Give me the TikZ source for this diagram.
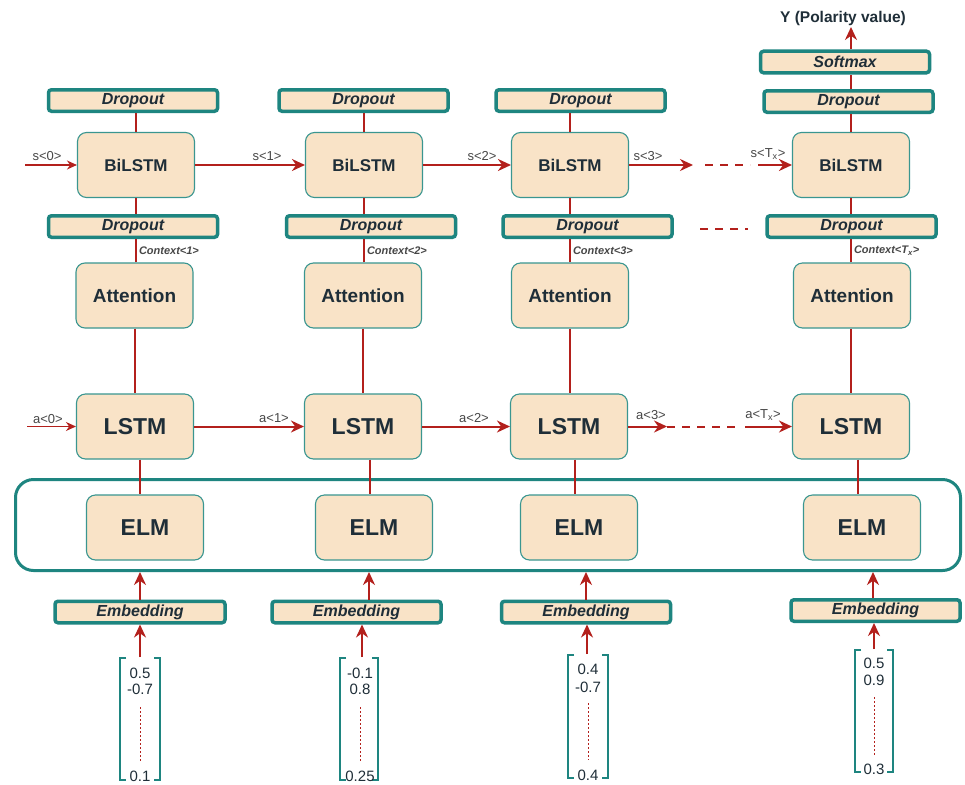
\documentclass[tikz,border=0pt]{standalone}
\usepackage{fontspec}
\setmainfont{Liberation Sans}
\usetikzlibrary{arrows.meta}
\definecolor{boxfill}{HTML}{F9E3C7}
\definecolor{teal1}{HTML}{1E8580}
\definecolor{tealthin}{HTML}{3A9690}
\definecolor{redline}{HTML}{B3201C}
\definecolor{txt}{HTML}{1F2E38}
\definecolor{lbl}{HTML}{474747}
\begin{document}
\begin{tikzpicture}[x=1pt,y=-1pt,
 cell/.style={draw=tealthin, line width=1.1pt, fill=boxfill, rounded corners=9pt, minimum width=117pt, minimum height=65pt, inner sep=0pt, text=txt, font=\bfseries\fontsize{17}{17}\selectfont},
 big/.style={cell, font=\bfseries\fontsize{23}{23}\selectfont},
 att/.style={cell, font=\bfseries\fontsize{19}{19}\selectfont},
 band/.style={draw=teal1, line width=3.5pt, fill=boxfill, rounded corners=3pt, minimum width=169pt, minimum height=21.5pt, inner sep=0pt, text=txt, font=\bfseries\itshape\fontsize{16}{16}\selectfont},
 link/.style={draw=redline, line width=2pt},
 flow/.style={link, -{Stealth[length=13pt,width=12pt]}},
 inflow/.style={draw=redline, line width=1.3pt, -{Stealth[length=10pt,width=9pt]}},
 gapline/.style={link, dash pattern=on 8pt off 7pt},
 statelbl/.style={text=lbl, font=\fontsize{13}{13}\selectfont, inner sep=0pt},
 ctx/.style={text=lbl, font=\bfseries\itshape\fontsize{11}{11}\selectfont, anchor=west, inner sep=2pt},
 vecnum/.style={text=txt, font=\fontsize{15}{15}\selectfont, inner sep=0pt},
 bracket/.style={draw=teal1, line width=2pt},
 dots/.style={draw=redline, line width=1pt, dash pattern=on 1.5pt off 2.5pt}
]
\useasboundingbox (0,0) rectangle (965,784);
\fill[white] (0,0) rectangle (965,784);

% ELM group container
\node[draw=teal1, line width=3pt, rounded corners=18pt, minimum width=945pt, minimum height=91pt, inner sep=0pt] (elmgroup) at (488,525) {};

% column 1
\node[band] (dt1) at (133,100.5) {Dropout};
\node[cell] (b1) at (136,165) {BiLSTM};
\node[band] (db1) at (133,226.5) {Dropout};
\node[att] (a1) at (134.5,295.5) {Attention};
\node[big] (l1) at (135,426.5) {LSTM};
\node[big] (e1) at (145,527.5) {ELM};
\node[band, minimum width=170pt] (m1) at (140,612) {Embedding};

% column 2
\node[band] (dt2) at (363.5,100.5) {Dropout};
\node[cell] (b2) at (364,165) {BiLSTM};
\node[band] (db2) at (371,226.5) {Dropout};
\node[att] (a2) at (363,295.5) {Attention};
\node[big] (l2) at (363,426.5) {LSTM};
\node[big] (e2) at (374,527.5) {ELM};
\node[band] (m2) at (356.5,612) {Embedding};

% column 3
\node[band] (dt3) at (580.5,100.5) {Dropout};
\node[cell] (b3) at (570,165) {BiLSTM};
\node[band] (db3) at (587.5,226.5) {Dropout};
\node[att] (a3) at (570,295.5) {Attention};
\node[big] (l3) at (569,426.5) {LSTM};
\node[big] (e3) at (579,527.5) {ELM};
\node[band] (m3) at (586,612) {Embedding};

% column 4
\node[text=txt, font=\bfseries\fontsize{15.5}{15.5}\selectfont, inner sep=1pt] (ylab) at (843,18) {Y (Polarity value)};
\node[band] (sm) at (845,62) {Softmax};
\node[band] (dt4) at (848.5,101.5) {Dropout};
\node[cell] (b4) at (851,165) {BiLSTM};
\node[band] (db4) at (851.5,226.5) {Dropout};
\node[att] (a4) at (852,295.5) {Attention};
\node[big] (l4) at (851,426.5) {LSTM};
\node[big] (e4) at (862,527.5) {ELM};
\node[band] (m4) at (875.5,610.5) {Embedding};

% helper x positions
\coordinate (k1) at (140,0);
\coordinate (k2) at (370,0);
\coordinate (k3) at (575,0);
\coordinate (k4) at (858,0);
\coordinate (u1) at (140,0);
\coordinate (u2) at (369,0);
\coordinate (u3) at (586,0);
\coordinate (u4) at (873,0);
\coordinate (ytop) at (851,27);

% vertical connectors column 1
\draw[link] (b1.north) -- (b1.north |- dt1.south);
\draw[link] (b1.south) -- (b1.south |- db1.north);
\draw[link] (a1.north -| b1) -- node[ctx] {Context<1>} (b1 |- db1.south);
\draw[link] (a1.south) -- (a1.south |- l1.north);
\draw[link] (l1.south -| k1) -- (e1.north -| k1);
\draw[flow] (m1.north -| u1) -- (elmgroup.south -| u1);

% column 2
\draw[link] (b2.north) -- (b2.north |- dt2.south);
\draw[link] (b2.south) -- (b2.south |- db2.north);
\draw[link] (a2.north -| b2) -- node[ctx] {Context<2>} (b2 |- db2.south);
\draw[link] (a2.south) -- (a2.south |- l2.north);
\draw[link] (l2.south -| k2) -- (e2.north -| k2);
\draw[flow] (m2.north -| u2) -- (elmgroup.south -| u2);

% column 3
\draw[link] (b3.north) -- (b3.north |- dt3.south);
\draw[link] (b3.south) -- (b3.south |- db3.north);
\draw[link] (a3.north -| b3) -- node[ctx] {Context<3>} (b3 |- db3.south);
\draw[link] (a3.south) -- (a3.south |- l3.north);
\draw[link] (l3.south -| k3) -- (e3.north -| k3);
\draw[flow] (m3.north -| u3) -- (elmgroup.south -| u3);

% column 4
\draw[flow] (sm.north -| ytop) -- (ytop);
\draw[link] (dt4.north -| ytop) -- (sm.south -| ytop);
\draw[link] (b4.north) -- (b4.north |- dt4.south);
\draw[link] (b4.south) -- (b4.south |- db4.north);
\draw[link] (a4.north -| b4) -- node[ctx] {Context<T\textsubscript{x}>} (b4 |- db4.south);
\draw[link] (a4.south -| b4) -- (b4 |- l4.north);
\draw[link] (l4.south -| k4) -- (e4.north -| k4);
\draw[flow] (m4.north -| u4) -- (elmgroup.south -| u4);

% BiLSTM state arrows
\coordinate (s0) at (25,165);
\draw[inflow] (s0) -- (b1.west);
\node[statelbl] (ls0) at (47,156) {s<0>};
\draw[flow] (b1.east) -- (b2.west);
\node[statelbl] (ls1) at (267,156) {s<1>};
\draw[flow] (b2.east) -- (b3.west);
\node[statelbl] (ls2) at (482,156) {s<2>};
\coordinate (s3end) at (693,165);
\draw[flow] (b3.east) -- (s3end);
\node[statelbl] (ls3) at (648,156) {s<3>};
\coordinate (sdash1) at (705,165);
\coordinate (sdash2) at (750,165);
\draw[gapline] (sdash1) -- (sdash2);
\coordinate (stx) at (758,165);
\draw[flow] (stx) -- (b4.west);
\node[statelbl] (lstx) at (768,154) {s<T\textsubscript{x}>};

% dropout gap
\coordinate (ddash1) at (700,229);
\coordinate (ddash2) at (748,229);
\draw[gapline] (ddash1) -- (ddash2);

% LSTM state arrows
\coordinate (a0) at (27,426.5);
\draw[inflow] (a0) -- (l1.west);
\node[statelbl] (la0) at (48,419) {a<0>};
\draw[flow] (l1.east) -- (l2.west);
\node[statelbl] (la1) at (274,418) {a<1>};
\draw[flow] (l2.east) -- (l3.west);
\node[statelbl] (la2) at (474,418) {a<2>};
\coordinate (a3end) at (667,426.5);
\draw[flow] (l3.east) -- (a3end);
\node[statelbl] (la3) at (651,415) {a<3>};
\coordinate (adash2) at (735,426.5);
\draw[gapline] (a3end) -- (adash2);
\coordinate (atx) at (745,426.5);
\draw[flow] (atx) -- (l4.west);
\node[statelbl] (latx) at (763,415) {a<T\textsubscript{x}>};

% input vectors
% vector 1
\draw[bracket] (126,658) -- (120,658) -- (120,780) -- (126,780);
\draw[bracket] (154,658) -- (160,658) -- (160,780) -- (154,780);
\node[vecnum] (n11) at (140,673) {0.5};
\node[vecnum] (n12) at (140,689) {-0.7};
\draw[dots] (140,707) -- (140,763);
\node[vecnum] (n13) at (140,776) {0.1};
\coordinate (v1) at (140,657);
\draw[flow] (v1) -- (v1 |- m1.south);

% vector 2
\draw[bracket] (346,658) -- (340,658) -- (340,780) -- (346,780);
\draw[bracket] (372,658) -- (378,658) -- (378,780) -- (372,780);
\node[vecnum] (n21) at (360,673) {-0.1};
\node[vecnum] (n22) at (360,689) {0.8};
\draw[dots] (360,707) -- (360,763);
\node[vecnum] (n23) at (360,776) {0.25};
\coordinate (v2) at (362,657);
\draw[flow] (v2) -- (v2 |- m2.south);

% vector 3
\draw[bracket] (574,655) -- (568,655) -- (568,778) -- (574,778);
\draw[bracket] (602,655) -- (608,655) -- (608,778) -- (602,778);
\node[vecnum] (n31) at (588,669) {0.4};
\node[vecnum] (n32) at (588,687) {-0.7};
\draw[dots] (588,703) -- (588,760);
\node[vecnum] (n33) at (588,775) {0.4};
\coordinate (v3) at (587,654);
\draw[flow] (v3) -- (v3 |- m3.south);

% vector 4
\draw[bracket] (861,650) -- (855,650) -- (855,772) -- (861,772);
\draw[bracket] (887,650) -- (893,650) -- (893,772) -- (887,772);
\node[vecnum] (n41) at (874,663) {0.5};
\node[vecnum] (n42) at (874,680) {0.9};
\draw[dots] (874,697) -- (874,755);
\node[vecnum] (n43) at (874,769) {0.3};
\coordinate (v4) at (874,649);
\draw[flow] (v4) -- (v4 |- m4.south);
\end{tikzpicture}
\end{document}
